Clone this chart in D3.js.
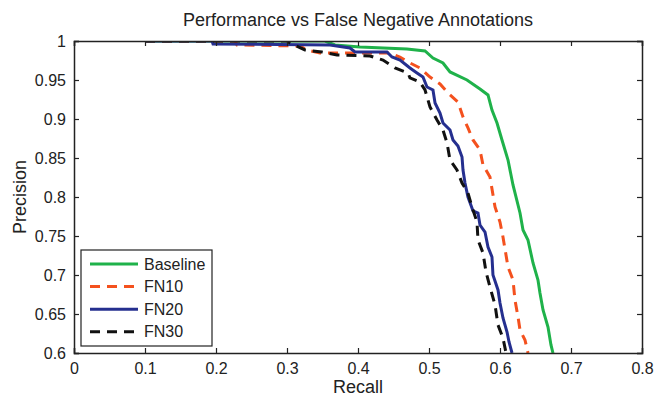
<!DOCTYPE html>
<html>
<head>
<meta charset="utf-8">
<script src="https://cdn.jsdelivr.net/npm/d3@7"></script>
<style>
  body { margin: 0; background: #fff; }
  text { font-family: "Liberation Sans", Arial, sans-serif; fill: #222; }
</style>
</head>
<body>
<div id="graf"></div>
<script>
// datos (recall, precision)
baseline = [[0.1,1],[0.3535,1],[0.3676,0.9949],[0.4028,0.9923],[0.469,0.9897],[0.4944,0.9872],
  [0.5056,0.9782],[0.5197,0.9718],[0.5296,0.9603],[0.5535,0.95],[0.5718,0.9385],[0.5831,0.9308],
  [0.5887,0.9115],[0.5958,0.8949],[0.6028,0.8731],[0.6113,0.8474],[0.6183,0.8154],[0.6282,0.7795],
  [0.6324,0.7577],[0.6394,0.7449],[0.6465,0.7154],[0.6535,0.6936],[0.6563,0.6769],[0.6606,0.6551],
  [0.6676,0.6333],[0.6718,0.6103],[0.6746,0.6]]
fn10 = [[0.1,1],[0.227,1],[0.2296,0.9949],[0.3183,0.9936],[0.3282,0.9885],[0.3465,0.9846],
  [0.445,0.9846],[0.459,0.9795],[0.4704,0.9731],[0.4873,0.9654],[0.5014,0.9538],[0.5155,0.9449],
  [0.5268,0.9333],[0.5408,0.9218],[0.5479,0.9026],[0.5549,0.8885],[0.562,0.8731],[0.5718,0.8603],
  [0.5761,0.841],[0.5859,0.8256],[0.593,0.7872],[0.6,0.7679],[0.6042,0.7487],[0.6113,0.7103],
  [0.6183,0.6936],[0.6211,0.6679],[0.6254,0.6462],[0.6282,0.6295],[0.6352,0.6167],[0.6394,0.6]]
fn20 = [[0.1,1],[0.1944,1],[0.1958,0.9962],[0.3606,0.9949],[0.3887,0.991],[0.3958,0.9859],
  [0.4408,0.9859],[0.4479,0.9795],[0.4592,0.9756],[0.4732,0.9654],[0.4831,0.959],[0.4915,0.9538],
  [0.4972,0.941],[0.5056,0.9372],[0.5085,0.9205],[0.5155,0.9077],[0.5197,0.8949],[0.5296,0.8859],
  [0.5338,0.8731],[0.5408,0.8654],[0.5465,0.8513],[0.5479,0.8346],[0.5507,0.8179],[0.5549,0.8],
  [0.562,0.7821],[0.569,0.7795],[0.5718,0.7641],[0.5789,0.7551],[0.5831,0.7359],[0.5887,0.7231],
  [0.5901,0.7],[0.5972,0.6808],[0.6,0.6641],[0.6042,0.6449],[0.6099,0.6269],[0.6127,0.6141],[0.6169,0.6]]
fn30 = [[0.1,1],[0.3,1],[0.3042,0.9974],[0.3254,0.9885],[0.3493,0.9859],[0.3704,0.9821],
  [0.4169,0.9808],[0.4352,0.9756],[0.4521,0.9654],[0.4704,0.959],[0.4732,0.9526],[0.4873,0.9474],
  [0.4944,0.9372],[0.5014,0.9154],[0.5113,0.8987],[0.5197,0.8859],[0.5254,0.8692],[0.5296,0.8474],
  [0.5394,0.8346],[0.5465,0.8179],[0.5549,0.8051],[0.5606,0.7872],[0.5676,0.7679],[0.569,0.7449],
  [0.5761,0.7282],[0.5803,0.7038],[0.5859,0.6846],[0.593,0.6615],[0.5972,0.6359],[0.6042,0.6192],[0.6085,0.6]]

series = ['Baseline', 'FN10', 'FN20', 'FN30']
colores = ['#1fb24a', '#f4511e', '#252f8f', '#111111']
guiones = [null, '10,7', null, '10,7']
datos = [baseline, fn10, fn20, fn30]

xTicks = [0, 0.1, 0.2, 0.3, 0.4, 0.5, 0.6, 0.7, 0.8]
yTicks = [0.6, 0.65, 0.7, 0.75, 0.8, 0.85, 0.9, 0.95, 1]

ancho_total = 654
alto_total = 396
margins = { top: 41, left: 74, right: 12, bottom: 43 }
ancho = ancho_total - margins.left - margins.right
alto = alto_total - margins.top - margins.bottom

svg = d3.select('#graf').append('svg')
  .attr('width', ancho_total)
  .attr('height', alto_total)

g = svg.append('g')
  .attr('transform', `translate(${margins.left}, ${margins.top})`)

x = d3.scaleLinear().domain([0, 0.8]).range([0, ancho])
y = d3.scaleLinear().domain([0.6, 1]).range([alto, 0])

// clip para el area del grafico
svg.append('clipPath').attr('id', 'clip')
  .append('rect').attr('width', ancho).attr('height', alto)

lineaGen = d3.line().x(d => x(d[0])).y(d => y(d[1]))

lineas = g.append('g').attr('clip-path', 'url(#clip)')
datos.forEach((d, i) => {
  lineas.append('path')
    .attr('d', lineaGen(d))
    .attr('fill', 'none')
    .attr('stroke', colores[i])
    .attr('stroke-width', 3)
    .attr('stroke-dasharray', guiones[i])
})

// Ejes estilo matlab (ticks hacia dentro)
fmt = d => d === 0 || d === 1 ? String(d) : String(+d.toFixed(2))
xAxis = g.append('g').attr('transform', `translate(0, ${alto})`)
  .call(d3.axisBottom(x).tickValues(xTicks).tickSize(-5).tickPadding(10).tickFormat(fmt))
yAxis = g.append('g')
  .call(d3.axisLeft(y).tickValues(yTicks).tickSize(-5).tickPadding(8).tickFormat(fmt))
g.append('g')
  .call(d3.axisTop(x).tickValues(xTicks).tickSize(-5).tickFormat(''))
g.append('g').attr('transform', `translate(${ancho}, 0)`)
  .call(d3.axisRight(y).tickValues(yTicks).tickSize(-5).tickFormat(''))

g.selectAll('.domain').attr('stroke', '#222').attr('stroke-width', 1.5)
g.selectAll('.tick line').attr('stroke', '#222').attr('stroke-width', 1.2)
g.selectAll('.tick text').style('font-size', '16px').attr('fill', '#222')
  .style('font-family', '"Liberation Sans", Arial, sans-serif')

// Titulos
svg.append('text')
  .attr('x', margins.left + ancho / 2)
  .attr('y', 26)
  .attr('text-anchor', 'middle')
  .style('font-size', '18px')
  .text('Performance vs False Negative Annotations')

svg.append('text')
  .attr('x', margins.left + ancho / 2)
  .attr('y', 393)
  .attr('text-anchor', 'middle')
  .style('font-size', '18px')
  .text('Recall')

svg.append('text')
  .attr('transform', `translate(26, ${margins.top + alto / 2}) rotate(-90)`)
  .attr('text-anchor', 'middle')
  .style('font-size', '18px')
  .text('Precision')

// Leyenda
leyenda = g.append('g').attr('transform', 'translate(7, 209)')
leyenda.append('rect')
  .attr('width', 131).attr('height', 96)
  .attr('fill', '#fff').attr('stroke', '#222').attr('stroke-width', 1.2)
series.forEach((s, i) => {
  fila = leyenda.append('g').attr('transform', `translate(0, ${14 + i * 22.6})`)
  fila.append('line')
    .attr('x1', 9).attr('x2', 57)
    .attr('stroke', colores[i]).attr('stroke-width', 3)
    .attr('stroke-dasharray', guiones[i])
  fila.append('text')
    .attr('x', 63).attr('dy', '0.35em')
    .style('font-size', '16px')
    .text(s)
})
</script>
</body>
</html>
